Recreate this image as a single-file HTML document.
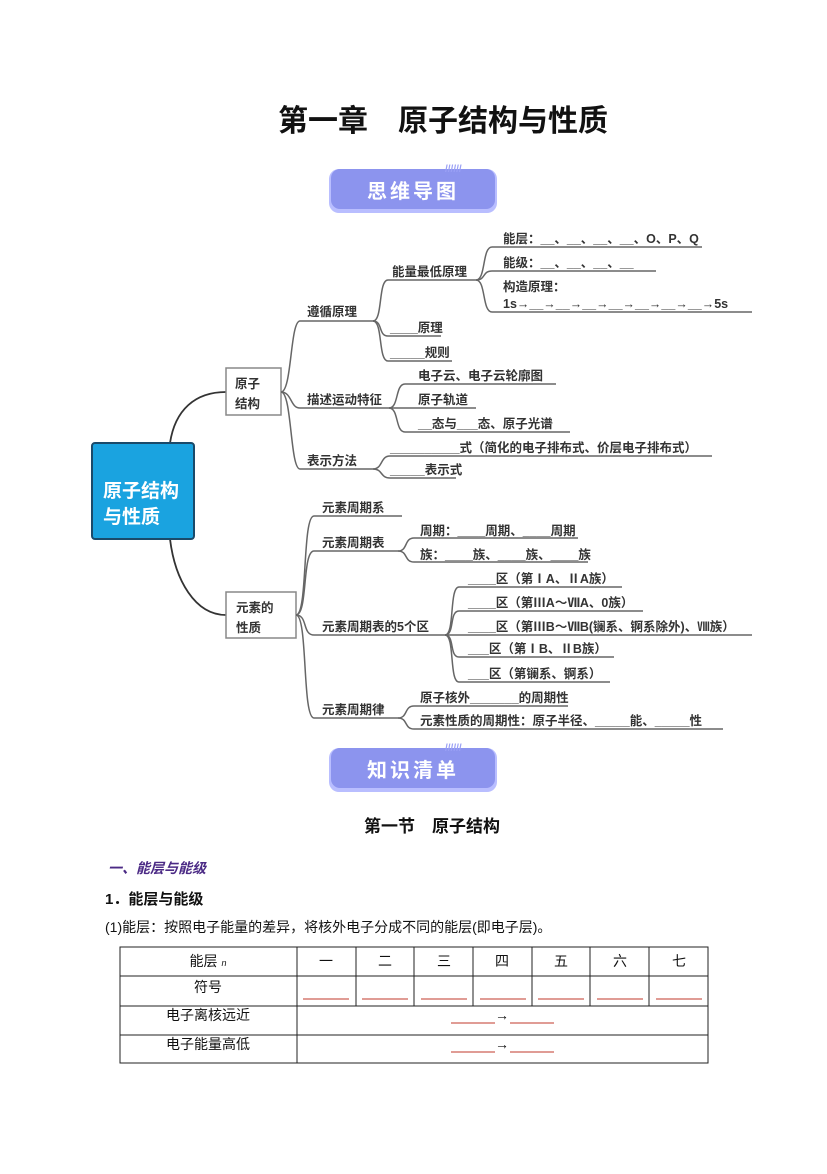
<!DOCTYPE html>
<html><head><meta charset="utf-8"><style>
html,body{margin:0;padding:0;background:#fff}
svg text{font-family:"Liberation Sans","Noto Sans CJK SC",sans-serif}
.m{font-size:12.5px;font-weight:bold;fill:#333}
.l{stroke:#666;stroke-width:1.5;fill:none}
.r{stroke:#c0392b;stroke-width:1}
</style></head><body>
<svg width="827" height="1169" viewBox="0 0 827 1169" xmlns="http://www.w3.org/2000/svg">
<text x="443" y="131" text-anchor="middle" font-size="30" font-weight="bold" fill="#111">第一章　原子结构与性质</text>

<g>
<rect x="329" y="169" width="168" height="44" rx="10" fill="#b9beff"/>
<rect x="331" y="169" width="164" height="40" rx="9" fill="#8c94ee"/>
<text x="413" y="198" text-anchor="middle" font-size="20" font-weight="bold" fill="#fff" letter-spacing="3">思维导图</text>
<text x="445" y="172" font-size="10" fill="#9aa0f5" font-weight="bold">//////</text>
</g>
<g>
<rect x="329" y="748" width="168" height="44" rx="10" fill="#b9beff"/>
<rect x="331" y="748" width="164" height="40" rx="9" fill="#8c94ee"/>
<text x="413" y="777" text-anchor="middle" font-size="20" font-weight="bold" fill="#fff" letter-spacing="3">知识清单</text>
<text x="445" y="751" font-size="10" fill="#9aa0f5" font-weight="bold">//////</text>
</g>

<path d="M170 443 C175 410,195 392,226 392" stroke="#333" stroke-width="1.8" fill="none"/>
<path d="M170 539 C175 580,195 615,226 615" stroke="#333" stroke-width="1.8" fill="none"/>
<rect x="92" y="443" width="102" height="96" rx="3" fill="#1aa3e0" stroke="#1a4a6a" stroke-width="2"/>
<text x="103" y="497" font-size="19" font-weight="bold" fill="#fff">原子结构</text>
<text x="103" y="523" font-size="19" font-weight="bold" fill="#fff">与性质</text>

<rect x="226" y="368" width="55" height="47" fill="#fff" stroke="#888" stroke-width="1.5"/>
<text x="235" y="388" class="m">原子</text><text x="235" y="408" class="m">结构</text>
<rect x="226" y="592" width="70" height="46" fill="#fff" stroke="#888" stroke-width="1.5"/>
<text x="236" y="612" class="m">元素的</text><text x="236" y="632" class="m">性质</text>

<path class="l" d="M281 392 C292 392,290 321,300 321 L374 321"/>
<path class="l" d="M281 392 C292 392,290 408,300 408 L389 408"/>
<path class="l" d="M281 392 C292 392,290 469,300 469 L373 469"/>
<text x="307" y="316" class="m">遵循原理</text>
<text x="307" y="404" class="m">描述运动特征</text>
<text x="307" y="465" class="m">表示方法</text>

<path class="l" d="M373 321 C383 321,378 280,388 280 L476 280"/>
<path class="l" d="M373 321 C383 321,378 336,388 336 L441 336"/>
<path class="l" d="M373 321 C383 321,378 361,388 361 L452 361"/>
<text x="392" y="276" class="m">能量最低原理</text>
<text x="390" y="332" class="m">____原理</text>
<text x="390" y="357" class="m">_____规则</text>

<path class="l" d="M476 280 C486 280,482 247,492 247 L702 247"/>
<path class="l" d="M476 280 C486 280,482 271,492 271 L656 271"/>
<path class="l" d="M476 280 C486 280,482 312,492 312 L752 312"/>
<text x="503" y="243" class="m">能层：__、__、__、__、O、P、Q</text>
<text x="503" y="267" class="m">能级：__、__、__、__</text>
<text x="503" y="291" class="m">构造原理：</text>
<text x="503" y="308" class="m">1s→__→__→__→__→__→__→__→5s</text>

<path class="l" d="M389 408 C399 408,395 384,405 384 L556 384"/>
<path class="l" d="M389 408 L476 408"/>
<path class="l" d="M389 408 C399 408,395 432,405 432 L570 432"/>
<text x="418" y="380" class="m">电子云、电子云轮廓图</text>
<text x="418" y="404" class="m">原子轨道</text>
<text x="418" y="428" class="m">__态与___态、原子光谱</text>

<path class="l" d="M373 469 C383 469,380 456,390 456 L712 456"/>
<path class="l" d="M373 469 C383 469,380 478,390 478 L456 478"/>
<text x="390" y="452" class="m">__________式（简化的电子排布式、价层电子排布式）</text>
<text x="390" y="474" class="m">_____表示式</text>

<path class="l" d="M296 615 C308 615,302 516,314 516 L402 516"/>
<path class="l" d="M296 615 C308 615,302 551,314 551 L398 551"/>
<path class="l" d="M296 615 C308 615,302 635,314 635 L445 635"/>
<path class="l" d="M296 615 C308 615,302 718,314 718 L398 718"/>
<text x="322" y="512" class="m">元素周期系</text>
<text x="322" y="547" class="m">元素周期表</text>
<text x="322" y="631" class="m">元素周期表的5个区</text>
<text x="322" y="714" class="m">元素周期律</text>

<path class="l" d="M398 551 C408 551,404 538,414 538 L578 538"/>
<path class="l" d="M398 551 C408 551,404 562,414 562 L588 562"/>
<text x="420" y="535" class="m">周期：____周期、____周期</text>
<text x="420" y="559" class="m">族：____族、____族、____族</text>

<path class="l" d="M445 635 C455 635,449 587,459 587 L622 587"/>
<path class="l" d="M445 635 C455 635,449 611,459 611 L643 611"/>
<path class="l" d="M445 635 L752 635"/>
<path class="l" d="M445 635 C455 635,449 657,459 657 L614 657"/>
<path class="l" d="M445 635 C455 635,449 682,459 682 L610 682"/>
<text x="468" y="583" class="m">____区（第ⅠA、ⅡA族）</text>
<text x="468" y="607" class="m">____区（第ⅢA～ⅦA、0族）</text>
<text x="468" y="631" class="m">____区（第ⅢB～ⅦB(镧系、锕系除外)、Ⅷ族）</text>
<text x="468" y="653" class="m">___区（第ⅠB、ⅡB族）</text>
<text x="468" y="678" class="m">___区（第镧系、锕系）</text>

<path class="l" d="M398 718 C408 718,404 706,414 706 L568 706"/>
<path class="l" d="M398 718 C408 718,404 729,414 729 L723 729"/>
<text x="420" y="702" class="m">原子核外_______的周期性</text>
<text x="420" y="725" class="m">元素性质的周期性：原子半径、_____能、_____性</text>

<text x="432" y="832" text-anchor="middle" font-size="17" font-weight="bold" fill="#111">第一节　原子结构</text>
<text x="108" y="873" font-size="14" font-weight="bold" fill="#4b2a85" font-style="italic">一、能层与能级</text>
<text x="105" y="904" font-size="15" font-weight="bold" fill="#111">1．能层与能级</text>
<text x="105" y="932" font-size="14" fill="#111">(1)能层：按照电子能量的差异，将核外电子分成不同的能层(即电子层)。</text>

<g stroke="#222" stroke-width="1" fill="none">
<rect x="120" y="947" width="588" height="116"/>
<line x1="120" y1="976" x2="708" y2="976"/>
<line x1="120" y1="1006" x2="708" y2="1006"/>
<line x1="120" y1="1035" x2="708" y2="1035"/>
<line x1="297" y1="947" x2="297" y2="1063"/>
<line x1="356" y1="947" x2="356" y2="1006"/>
<line x1="414" y1="947" x2="414" y2="1006"/>
<line x1="473" y1="947" x2="473" y2="1006"/>
<line x1="532" y1="947" x2="532" y2="1006"/>
<line x1="590" y1="947" x2="590" y2="1006"/>
<line x1="649" y1="947" x2="649" y2="1006"/>
</g>
<g font-size="14" fill="#111" text-anchor="middle">
<text x="208" y="966">能层 <tspan font-size="9" font-style="italic">n</tspan></text>
<text x="326" y="966">一</text><text x="385" y="966">二</text><text x="444" y="966">三</text><text x="502" y="966">四</text><text x="561" y="966">五</text><text x="620" y="966">六</text><text x="679" y="966">七</text>
<text x="208" y="992">符号</text>
<text x="208" y="1020">电子离核远近</text>
<text x="208" y="1049">电子能量高低</text>
<text x="502" y="1020">→</text>
<text x="502" y="1049">→</text>
</g>
<g class="r" stroke="#c0392b">
<line x1="303" y1="999" x2="349" y2="999"/><line x1="362" y1="999" x2="408" y2="999"/><line x1="421" y1="999" x2="467" y2="999"/><line x1="480" y1="999" x2="526" y2="999"/><line x1="538" y1="999" x2="584" y2="999"/><line x1="597" y1="999" x2="643" y2="999"/><line x1="656" y1="999" x2="702" y2="999"/>
<line x1="451" y1="1023" x2="495" y2="1023"/><line x1="510" y1="1023" x2="554" y2="1023"/>
<line x1="451" y1="1052" x2="495" y2="1052"/><line x1="510" y1="1052" x2="554" y2="1052"/>
</g>
</svg>
</body></html>
